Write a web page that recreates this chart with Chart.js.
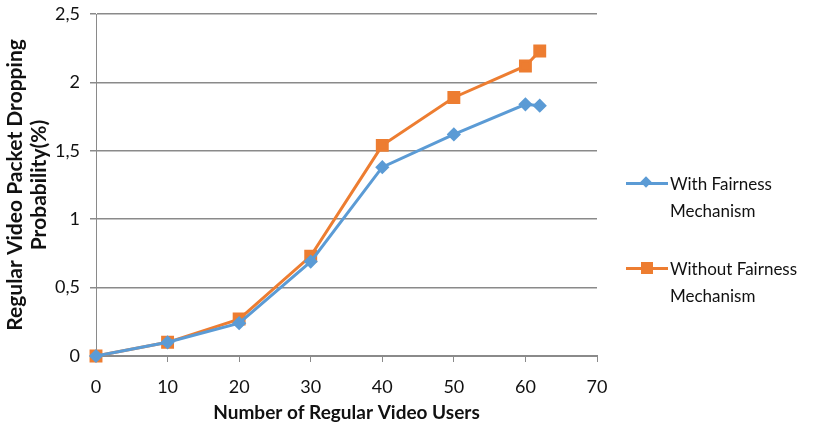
<!DOCTYPE html>
<html>
<head>
<meta charset="utf-8">
<script src="https://cdn.jsdelivr.net/npm/chart.js@4/dist/chart.umd.min.js"></script>
<style>
  html, body { margin: 0; padding: 0; background: #fff; }
  #wrap { position: relative; width: 819px; height: 428px; }
  canvas { position: absolute; left: 0; top: 0; }
  .legend { position: absolute; left: 626px; font-family: Lato, "Open Sans", sans-serif; font-size: 17px; color: #111; line-height: 27px; }
  .legend .mark { position: absolute; left: 0; top: 12px; width: 42px; height: 3px; }
  .legend .pt { position: absolute; }
  .legend .txt { position: absolute; left: 44px; top: 0; white-space: nowrap; }
</style>
</head>
<body>
<div id="wrap">
  <canvas id="c" width="819" height="428"></canvas>
  <div class="legend" style="top:170px">
    <div class="mark" style="background:#5B9BD5"></div>
    <div class="pt" style="left:16px;top:8px;width:8px;height:8px;background:#5B9BD5;transform:rotate(45deg)"></div>
    <div class="txt">With Fairness<br>Mechanism</div>
  </div>
  <div class="legend" style="top:255px">
    <div class="mark" style="background:#ED7D31"></div>
    <div class="pt" style="left:15px;top:7px;width:12px;height:12px;background:#ED7D31"></div>
    <div class="txt">Without Fairness<br>Mechanism</div>
  </div>
</div>
<script>
// Number of regular video users
const users = [0, 10, 20, 30, 40, 50, 60, 62];
// Dropping probability (%) per configuration
const withFairness = [0, 0.1, 0.24, 0.69, 1.38, 1.62, 1.84, 1.83];
const withoutFairness = [0, 0.1, 0.27, 0.73, 1.54, 1.89, 2.12, 2.23];
const xTicks = [0, 10, 20, 30, 40, 50, 60, 70];
const yTicks = [0, 0.5, 1, 1.5, 2, 2.5];

const toPoints = (ys) => users.map((x, i) => ({ x: x, y: ys[i] }));
const fmt = (v) => String(v).replace('.', ',');
const family = 'Lato, "Open Sans", sans-serif';
const tickFont = { family: family, size: 18 };
const gridGray = '#8a8a8a';

new Chart(document.getElementById('c'), {
  type: 'line',
  data: {
    datasets: [
      {
        label: 'With Fairness Mechanism',
        data: toPoints(withFairness),
        borderColor: '#5B9BD5',
        backgroundColor: '#5B9BD5',
        borderWidth: 3,
        pointStyle: 'rectRot',
        pointRadius: 5,
        tension: 0,
        clip: false
      },
      {
        label: 'Without Fairness Mechanism',
        data: toPoints(withoutFairness),
        borderColor: '#ED7D31',
        backgroundColor: '#ED7D31',
        borderWidth: 3,
        pointStyle: 'rect',
        pointRadius: 7,
        tension: 0,
        clip: false
      }
    ]
  },
  options: {
    responsive: false,
    animation: false,
    layout: { padding: { top: 14, right: 222, left: 3, bottom: 0 } },
    plugins: { legend: { display: false }, tooltip: { enabled: false } },
    scales: {
      x: {
        type: 'linear',
        min: 0, max: 70,
        afterBuildTicks: (s) => { s.ticks = xTicks.map(v => ({ value: v })); },
        afterFit: (s) => { s.height = 428 - 356; s.paddingLeft = 0; s.paddingRight = 0; },
        ticks: { color: '#111', font: tickFont, padding: 14, callback: fmt },
        grid: { drawOnChartArea: false, drawTicks: true, tickLength: 6, color: gridGray },
        border: { color: gridGray, width: 2 },
        title: {
          display: true,
          text: 'Number of Regular Video Users',
          color: '#111',
          font: { family: family, size: 19, weight: 'bold' },
          padding: { top: 0, bottom: 4 }
        }
      },
      y: {
        min: 0, max: 2.5,
        afterBuildTicks: (s) => { s.ticks = yTicks.map(v => ({ value: v })); },
        afterFit: (s) => { s.width = 93; s.paddingTop = 0; s.paddingBottom = 0; },
        ticks: { color: '#111', font: tickFont, padding: 10, callback: fmt },
        grid: { color: gridGray, lineWidth: 1.5, drawTicks: true, tickLength: 6 },
        border: { color: gridGray, width: 1 },
        title: {
          display: true,
          text: ['Regular Video Packet Dropping', 'Probability(%)'],
          color: '#111',
          font: { family: family, size: 21, weight: 'bold', lineHeight: 1.15 },
          padding: { top: 0, bottom: 4 }
        }
      }
    }
  }
});
</script>
</body>
</html>
